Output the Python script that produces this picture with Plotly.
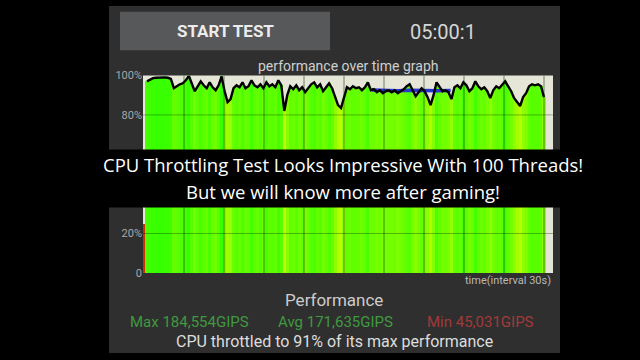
import plotly.graph_objects as go

# ---- data ----
perf_values = [
    24.4, 97.0, 98.0, 98.6, 98.8, 98.9, 98.9, 99.0, 98.8, 98.2,
    93.5, 94.5, 95.5, 96.0, 97.5, 99.8, 96.0, 92.0, 94.5, 97.0,
    95.0, 93.5, 96.5, 94.0, 92.5, 95.0, 99.5, 92.0, 86.5, 88.0,
    93.5, 95.0, 94.0, 96.5, 93.5, 94.5, 97.5, 95.0, 94.0, 95.5,
    93.5, 96.5, 94.5, 95.5, 94.0, 97.5, 95.0, 82.0, 90.0, 94.5,
    93.0, 95.0, 92.5, 94.0, 91.5, 93.5, 95.5, 96.5, 94.0, 95.5,
    92.0, 94.0, 96.0, 93.5, 89.0, 85.0, 83.5, 88.5, 94.0, 93.0,
    94.5, 93.5, 94.0, 92.5, 94.0, 96.5, 92.5, 93.0, 91.5, 92.5,
    91.0, 92.0, 92.5, 91.5, 92.5, 91.0, 92.0, 93.0, 94.5, 95.5,
    92.5, 89.5, 91.5, 93.5, 92.0, 89.0, 85.0, 90.0, 96.5, 94.0,
    92.0, 92.5, 91.5, 88.0, 94.0, 95.0, 93.5, 96.5, 95.0, 92.0,
    93.5, 97.0, 94.5, 93.0, 94.0, 92.0, 88.5, 92.5, 94.5, 93.5,
    95.0, 97.0, 94.5, 92.0, 88.5, 86.5, 84.5, 89.0, 91.0, 94.5,
    95.5, 95.0, 95.5, 94.5, 89.0,
]
blue_times = [171, 180, 190, 200, 210, 220, 230]
blue_values = [92.6, 92.4, 92.2, 92.5, 92.3, 92.2, 92.4]
y_tickvals = [0, 20, 80, 100]
y_ticktext = ["0", "20%", "80%", "100%"]
grid_times = [30, 60, 90, 120, 150, 180, 210, 240, 270, 300]
grid_levels = [20, 40, 60, 80]
total_seconds = 300

n = len(perf_values)
step = total_seconds / (n - 1)
times = [i * step for i in range(n)]

# colour scale for the stripes (red -> yellow -> green)
stops = [(24, (205, 45, 0)), (60, (235, 210, 0)), (84, (185, 255, 0)),
         (92, (115, 255, 0)), (99, (55, 255, 0))]


def stripe_color(v):
    if v <= stops[0][0]:
        c = stops[0][1]
        return f"rgb({c[0]},{c[1]},{c[2]})"
    for (a, ca), (b, cb) in zip(stops, stops[1:]):
        if v <= b:
            t = (v - a) / (b - a)
            c = tuple(int(round(ca[k] + t * (cb[k] - ca[k]))) for k in range(3))
            return f"rgb({c[0]},{c[1]},{c[2]})"
    c = stops[-1][1]
    return f"rgb({c[0]},{c[1]},{c[2]})"


colors = [stripe_color(v) for v in perf_values]

W, H = 640, 360
px0, px1 = 143, 553
py_top, py_bot = 72, 277

fig = go.Figure()
fig.add_trace(go.Bar(x=times, y=perf_values, width=step * 1.02,
                     marker=dict(color=colors, line=dict(width=0)),
                     hoverinfo="skip"))
fig.add_trace(go.Scatter(x=blue_times, y=blue_values, mode="lines",
                         line=dict(color="#2a35d0", width=3.5), hoverinfo="skip"))
fig.add_trace(go.Scatter(x=times[1:], y=perf_values[1:], mode="lines",
                         line=dict(color="#000000", width=2.4), hoverinfo="skip"))

shapes = []
# dark app panel
shapes.append(dict(type="rect", xref="paper", yref="paper", x0=109 / W, x1=560 / W,
                   y0=0, y1=1, fillcolor="#2f2f2f", line=dict(width=0), layer="below"))
# button
shapes.append(dict(type="rect", xref="paper", yref="paper", x0=120 / W, x1=330 / W,
                   y0=1 - 46 / H, y1=1 - 6 / H, fillcolor="#57585a",
                   line=dict(width=0), layer="below"))
# graph background
shapes.append(dict(type="rect", xref="paper", yref="paper", x0=px0 / W, x1=px1 / W,
                   y0=1 - py_bot / H, y1=1 - py_top / H, fillcolor="#e6e6d8",
                   line=dict(width=0), layer="below"))
# grid lines above the fill
for g in grid_times:
    shapes.append(dict(type="line", xref="x", yref="y", x0=g, x1=g, y0=0, y1=100,
                       line=dict(color="rgba(0,40,0,0.45)", width=1.2), layer="above"))
for g in grid_levels:
    shapes.append(dict(type="line", xref="x", yref="y", x0=-0.75, x1=306.75, y0=g, y1=g,
                       line=dict(color="rgba(0,40,0,0.35)", width=1), layer="above"))
# caption band
shapes.append(dict(type="rect", xref="paper", yref="paper", x0=0, x1=1,
                   y0=1 - 209 / H, y1=1 - 149 / H, fillcolor="#000000",
                   line=dict(width=0), layer="above"))


def ann(text, x, y, size, color, xanchor="center", family="Roboto", bold=False):
    return dict(text=f"<b>{text}</b>" if bold else text, x=x / W, y=1 - y / H,
                xref="paper", yref="paper", xanchor=xanchor, yanchor="middle",
                showarrow=False, font=dict(family=family, size=size, color=color))


annotations = [
    ann("START TEST", 225, 26, 17, "#ececec", bold=True),
    ann("05:00:1", 443, 27, 20, "#d6d6d6"),
    ann("performance over time graph", 348, 62, 14, "#cfcfcf"),
    ann("time(interval 30s)", 553, 285, 11, "#b8b8b8", xanchor="right"),
    ann("Performance", 334, 305, 17, "#cccccc"),
    ann("Max 184,554GIPS", 128, 328, 15, "#3f9a3f", xanchor="left"),
    ann("Avg 171,635GIPS", 276, 328, 15, "#3f9a3f", xanchor="left"),
    ann("Min 45,031GIPS", 425, 328, 15, "#a33a3a", xanchor="left"),
    ann("CPU throttled to 91% of its max performance", 334, 348, 16, "#dddddd"),
    ann("CPU Throttling Test Looks Impressive With 100 Threads!", 343, 164, 18.5,
        "#ffffff", family="Open Sans"),
    ann("But we will know more after gaming!", 343, 192, 18.5, "#ffffff",
        family="Open Sans"),
]

fig.update_layout(
    width=W, height=H, margin=dict(l=0, r=0, t=0, b=0),
    paper_bgcolor="#000000", plot_bgcolor="rgba(0,0,0,0)",
    showlegend=False, bargap=0, shapes=shapes, annotations=annotations,
    xaxis=dict(domain=[px0 / W, px1 / W], range=[-0.75, 306.75], showgrid=False,
               zeroline=False, showticklabels=False, ticks="", fixedrange=True),
    yaxis=dict(domain=[1 - py_bot / H, 1 - py_top / H], range=[0, 100], showgrid=False,
               zeroline=False, tickvals=y_tickvals, ticktext=y_ticktext, ticks="",
               tickfont=dict(family="Roboto", size=11, color="#a8a8a8"),
               fixedrange=True),
)

fig.write_html("out.html", config={"displayModeBar": False})
